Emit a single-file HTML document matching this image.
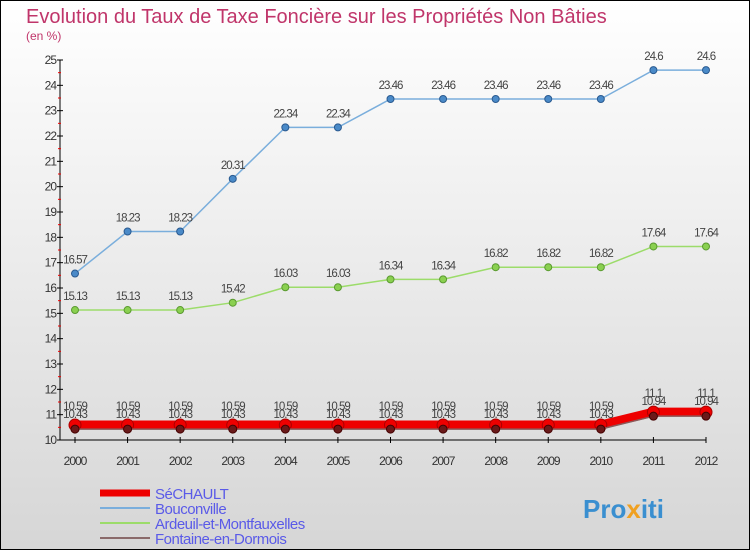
<!DOCTYPE html>
<html><head><meta charset="utf-8"><style>
body{margin:0}
#c{width:750px;height:550px;position:relative;font-family:"Liberation Sans",sans-serif}
</style></head><body>
<div id="c">
<svg id="s" width="750" height="550" xmlns="http://www.w3.org/2000/svg">
<defs><linearGradient id="bg" x1="0" y1="0" x2="0" y2="1"><stop offset="0" stop-color="#ffffff"/><stop offset="1" stop-color="#d6d6d6"/></linearGradient></defs>
<rect x="0.5" y="0.5" width="749" height="549" fill="url(#bg)" stroke="#000"/>
<text x="26" y="23" font-size="20" fill="#c0356a">Evolution du Taux de Taxe Foncière sur les Propriétés Non Bâties</text>
<text x="26" y="40" font-size="12" fill="#c0356a">(en %)</text>
<g id="axes"></g><g id="series"></g><g id="legend"></g>
<text x="583" y="518" font-size="26" font-weight="bold" fill="#3a8fd0">Pro<tspan fill="#f0a020">x</tspan>iti</text>
</svg></div>
<script>
const years=[2000,2001,2002,2003,2004,2005,2006,2007,2008,2009,2010,2011,2012];
const yTicks=[10,11,12,13,14,15,16,17,18,19,20,21,22,23,24,25];
const sechault=[10.59,10.59,10.59,10.59,10.59,10.59,10.59,10.59,10.59,10.59,10.59,11.1,11.1];
const bouconville=[16.57,18.23,18.23,20.31,22.34,22.34,23.46,23.46,23.46,23.46,23.46,24.6,24.6];
const ardeuil=[15.13,15.13,15.13,15.42,16.03,16.03,16.34,16.34,16.82,16.82,16.82,17.64,17.64];
const fontaine=[10.43,10.43,10.43,10.43,10.43,10.43,10.43,10.43,10.43,10.43,10.43,10.94,10.94];
const names=["SéCHAULT","Bouconville","Ardeuil-et-Montfauxelles","Fontaine-en-Dormois"];
const NS="http://www.w3.org/2000/svg";
const X=i=>75+i*(706-75)/(years.length-1);
const Y=v=>440-(v-10)*(380/15);
function mk(t,a,p){const e=document.createElementNS(NS,t);for(const k in a)e.setAttribute(k,a[k]);p.appendChild(e);return e;}
const ax=document.getElementById('axes');
mk('line',{x1:60,y1:60,x2:60,y2:440,stroke:'#000'},ax);
mk('line',{x1:60,y1:440,x2:706,y2:440,stroke:'#000'},ax);
yTicks.forEach(v=>{
 mk('line',{x1:57,y1:Y(v),x2:63,y2:Y(v),stroke:'#000'},ax);
 if(v<25)mk('line',{x1:58,y1:Y(v+0.5),x2:61,y2:Y(v+0.5),stroke:'#e00'},ax);
 const t=mk('text',{x:56,y:Y(v)+4,'font-size':12,'text-anchor':'end',fill:'#333','letter-spacing':'-1'},ax);t.textContent=v;
 
 
});
years.forEach((y,i)=>{
 mk('line',{x1:X(i),y1:437,x2:X(i),y2:443,stroke:'#000'},ax);
 const t=mk('text',{x:X(i),y:465,'font-size':12,'text-anchor':'middle',fill:'#333','letter-spacing':'-1'},ax);t.textContent=y;
 
 
});
const sg=document.getElementById('series');
function series(vals,color,w,dot,dotStroke,r,name,labelDy){
 const g=mk('g',{},sg);
 
 
 mk('polyline',{points:vals.map((v,i)=>X(i)+','+Y(v)).join(' '),fill:'none',stroke:color,'stroke-width':w,'stroke-linejoin':'round'},g);
 vals.forEach((v,i)=>{
  const c=mk('circle',{cx:X(i),cy:Y(v),r:r,fill:dot,stroke:dotStroke},g);
  
  
  const t=mk('text',{x:X(i),y:Y(v)+labelDy,'font-size':11.5,'text-anchor':'middle',fill:'#444','letter-spacing':'-1'},g);t.textContent=v;
  
  
 });
}
series(bouconville,'#7aaedc',1.5,'#4a8ac8','#2a5a90',3.5,'bouconville-line',-10);
series(ardeuil,'#9cdc6a',1.5,'#8ad050','#5a9a30',3.5,'ardeuil-line',-10);
series(sechault,'#ee0000',9,'#ee0000','#a00',6,'sechault-line',-15);
series(fontaine,'#8a5a5a',1.5,'#6a1a1a','#400',4,'fontaine-line',-11);
const lg=document.getElementById('legend');
const lc=['#ee0000','#7aaedc','#9cdc6a','#8a6a6a'],lw=[7,2,2,2];
names.forEach((n,i)=>{
 const y=493+i*15;
 const l=mk('line',{x1:100,y1:y,x2:150,y2:y,stroke:lc[i],'stroke-width':lw[i]},lg);
 
 
 const t=mk('text',{x:155,y:y+6,'font-size':15,fill:'#5a5ae8','letter-spacing':'-0.5'},lg);t.textContent=n;
 
 
});
</script>
</body></html>
